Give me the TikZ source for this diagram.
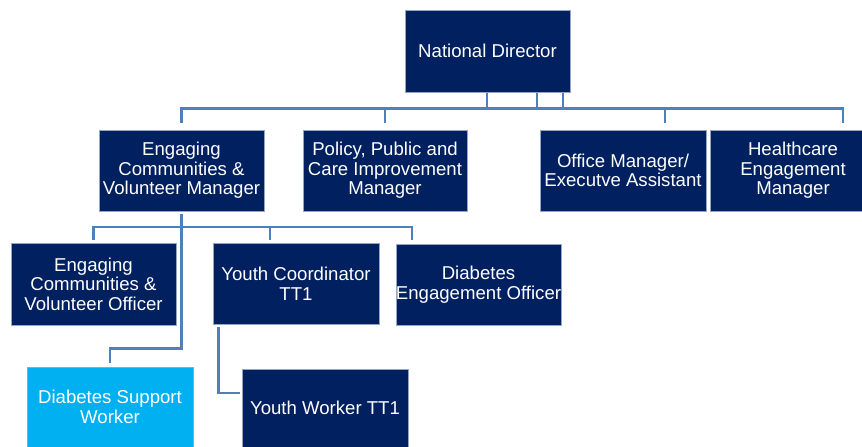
\documentclass[tikz,border=0pt]{standalone}
\usepackage{fontspec}
\setmainfont{Liberation Sans}
\definecolor{navy}{RGB}{0,32,96}
\definecolor{sky}{RGB}{0,176,240}
\definecolor{conncol}{RGB}{78,128,188}
\definecolor{edgecol}{RGB}{150,165,195}
\begin{document}
\begin{tikzpicture}[x=1pt,y=-1pt,
  box/.style={rectangle, fill=navy, draw=edgecol, line width=0.6pt, text=white,
    align=center, inner sep=0pt, font=\fontsize{18.6}{19.6}\selectfont},
  conn/.style={draw=conncol, line width=2.8pt, line cap=butt, line join=miter}]
\useasboundingbox (0,0) rectangle (862,447);
% boxes
\node[box, minimum width=165, minimum height=82] (nd) at (487.5,51) {National Director};
\node[box, minimum width=165, minimum height=81] (ecvm) at (181.5,170.5) {Engaging\\Communities \&\\Volunteer Manager};
\node[box, minimum width=164, minimum height=81] (ppc) at (385,170.5) {Policy, Public and\\Care Improvement\\Manager};
\node[box, minimum width=166, minimum height=81] (om) at (623,170.5) {Office Manager/\\Executve Assistant};
\node[box, minimum width=166, minimum height=81] (hem) at (793,170.5) {Healthcare\\Engagement\\Manager};
\node[box, minimum width=165, minimum height=82] (ecvo) at (93.5,284) {Engaging\\Communities \&\\Volunteer Officer};
\node[box, minimum width=166, minimum height=81] (yc) at (296,283.5) {Youth Coordinator\\TT1};
\node[box, minimum width=165, minimum height=81] (deo) at (478.5,284.5) {Diabetes\\Engagement Officer};
\node[box, fill=sky, minimum width=166, minimum height=80] (dsw) at (110,407) {Diabetes Support\\Worker};
\node[box, minimum width=166, minimum height=78] (yw) at (325,408) {Youth Worker TT1};
% helper coordinates
\coordinate (busy) at (0,108.5);
\coordinate (bus2) at (0,227);
\coordinate (omT) at (665,123);
\coordinate (hemT) at (843,123);
\coordinate (ycT) at (270,240);
\coordinate (deoT) at (412,240);
% top level connectors
\draw[conn] (nd.south) ++(-0.5,1) -- ++(0,15.5);
\draw[conn] (nd.south) ++(49.5,1) -- ++(0,15.5);
\draw[conn] (nd.south) ++(75.5,1) -- ++(0,15.5);
\draw[conn] ([yshift=7]ecvm.north) |- (busy -| hemT) -- (hemT);
\draw[conn] ([yshift=7]ppc.north) -- (ppc.north |- busy);
\draw[conn] (omT) -- (omT |- busy);
% second level connectors
\draw[conn] ([yshift=-3]ecvm.south) -- ++(0,134) -| ([yshift=4]dsw.north);
\draw[conn] ([yshift=3]ecvo.north) |- (bus2 -| deoT) -- (deoT);
\draw[conn] (ycT) -- (ycT |- bus2);
\draw[conn] ([xshift=6,yshift=-3]yc.south west) |- ([xshift=-2,yshift=15]yw.west);
\end{tikzpicture}
\end{document}
